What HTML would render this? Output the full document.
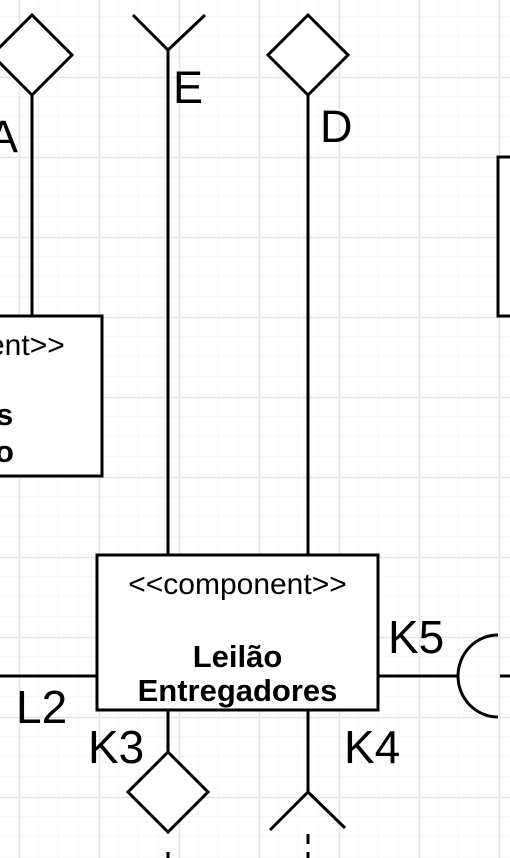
<!DOCTYPE html>
<html><head><meta charset="utf-8"><style>
html,body{margin:0;padding:0;width:510px;height:858px;overflow:hidden;background:#fff}
</style></head><body>
<svg width="510" height="858" xmlns="http://www.w3.org/2000/svg" font-family="Liberation Sans, Arial, sans-serif">
<defs>
<pattern id="minor" x="-1" y="-3" width="20" height="20" patternUnits="userSpaceOnUse">
<path d="M20 0V20M0 20H20" stroke="#f2f2f2" stroke-width="1" fill="none"/>
</pattern>
<pattern id="major" x="19" y="-3" width="80" height="80" patternUnits="userSpaceOnUse">
<path d="M0.5 0V80M0 0.5H80" stroke="#e4e4e4" stroke-width="1.5" fill="none"/>
</pattern>
</defs>
<rect width="510" height="858" fill="url(#minor)"/>
<rect width="510" height="858" fill="url(#major)"/>
<g stroke="#000" stroke-width="3" fill="#fff">
<polygon points="32,15 72,55 32,95 -8,55"/>
<line x1="32" y1="95" x2="32" y2="316"/>
<polyline points="133,15 168,50 205,15" fill="none"/>
<line x1="168" y1="50" x2="168" y2="555"/>
<polygon points="308,15 348,55 308,95 268,55"/>
<line x1="308" y1="95" x2="308" y2="555"/>
<rect x="-10" y="316" width="112" height="160"/>
<rect x="498" y="157" width="30" height="159"/>
<rect x="97" y="555" width="281" height="155"/>
<line x1="0" y1="676" x2="97" y2="676"/>
<line x1="378" y1="676" x2="458" y2="676"/>
<path d="M498,635 A40,41 0 0 0 498,717" fill="none"/>
<line x1="500" y1="676" x2="510" y2="676"/>
<line x1="168" y1="710" x2="168" y2="752"/>
<polygon points="168,752 208,792 168,832 128,792"/>
<line x1="308" y1="710" x2="308" y2="792"/>
<polyline points="270,830 308,792 345,828" fill="none"/>
<line x1="308" y1="834" x2="308" y2="858" stroke-dasharray="10,8"/>
<line x1="168" y1="852" x2="168" y2="858"/>
</g>
<g fill="#000">
<text x="-12" y="152" font-size="45">A</text>
<text x="173" y="103" font-size="45">E</text>
<text x="320" y="142" font-size="45">D</text>
<text x="-12" y="355" font-size="30">ent&gt;&gt;</text>
<text x="-4" y="425" font-size="31" font-weight="bold">s</text>
<text x="-5" y="462" font-size="31" font-weight="bold">o</text>
<text x="237.5" y="594" font-size="30" text-anchor="middle">&lt;&lt;component&gt;&gt;</text>
<text x="237.5" y="667" font-size="31" font-weight="bold" text-anchor="middle">Leilão</text>
<text x="237.5" y="701" font-size="31" font-weight="bold" text-anchor="middle">Entregadores</text>
<text x="388" y="653" font-size="46">K5</text>
<text x="16" y="723" font-size="46">L2</text>
<text x="88" y="763" font-size="46">K3</text>
<text x="344" y="763" font-size="46">K4</text>
</g>
</svg>
</body></html>
